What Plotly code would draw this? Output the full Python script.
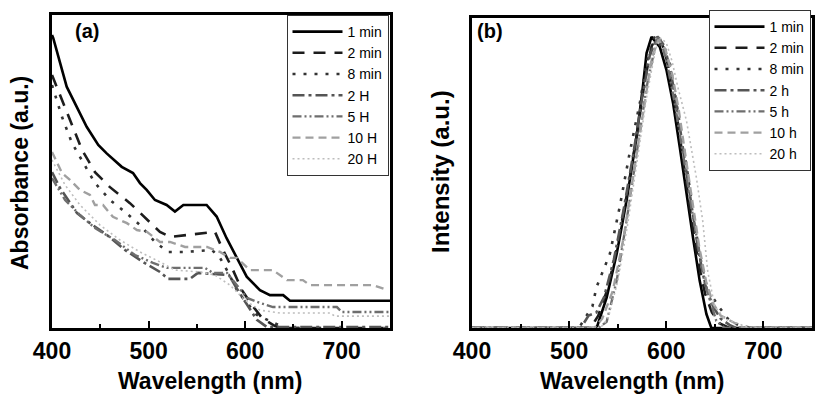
import plotly.graph_objects as go

# ---------------- Panel (a): absorbance ----------------
abs_labels = ["1 min", "2 min", "8 min", "2 H", "5 H", "10 H", "20 H"]

a_1min_x = [400, 401.3, 415.2, 435.9, 447.9, 456.6, 472.2, 483.9, 491.1, 498, 506.6, 518.7, 527.3, 536, 560.1, 570.5, 580.8, 591.2, 601.6, 615.3, 625.7, 639.4, 646.4, 750]
a_1min_y = [0.936, 0.926, 0.771, 0.643, 0.585, 0.558, 0.515, 0.495, 0.463, 0.441, 0.409, 0.393, 0.372, 0.393, 0.393, 0.356, 0.287, 0.228, 0.164, 0.121, 0.105, 0.105, 0.087, 0.087]

a_2min_x = [400, 410.4, 420.7, 431.1, 444.5, 460, 480.7, 501.4, 511.8, 522.2, 537.7, 568.8, 576, 586.4, 596.7, 607.1, 617.5, 630.9, 638.2, 750]
a_2min_y = [0.808, 0.728, 0.649, 0.569, 0.498, 0.450, 0.399, 0.339, 0.307, 0.291, 0.297, 0.307, 0.256, 0.192, 0.121, 0.073, 0.032, 0.006, 0.0, 0.0]

a_8min_x = [400, 410.4, 420.7, 434.2, 444.5, 460, 475.6, 491.1, 506.6, 520, 537.7, 565.7, 574, 582.2, 592.5, 601.9, 612.2, 625.7, 641.2, 750]
a_8min_y = [0.776, 0.674, 0.591, 0.521, 0.463, 0.409, 0.371, 0.329, 0.275, 0.243, 0.243, 0.249, 0.224, 0.179, 0.115, 0.080, 0.042, 0.022, 0.0, 0.0]

a_2H_x = [400, 408.3, 425.9, 439.3, 456.9, 475.6, 494.2, 511.8, 520, 542.8, 551.1, 583.2, 593.5, 603.9, 612.2, 622.5, 750]
a_2H_y = [0.498, 0.447, 0.367, 0.335, 0.297, 0.249, 0.211, 0.179, 0.157, 0.157, 0.176, 0.169, 0.115, 0.064, 0.026, 0.003, 0.003]

a_5H_x = [400, 413.5, 429, 444.5, 465.2, 485.9, 504.5, 519, 558.4, 566.7, 581.2, 591.5, 601.9, 615.3, 628.8, 695, 700.2, 750]
a_5H_y = [0.479, 0.409, 0.361, 0.319, 0.281, 0.233, 0.208, 0.192, 0.192, 0.176, 0.176, 0.137, 0.096, 0.080, 0.067, 0.067, 0.051, 0.051]

a_10H_x = [400, 410.4, 418.6, 429, 439.3, 444.5, 452.8, 463.1, 477.6, 487.9, 498.3, 511.8, 522.2, 537.7, 560.5, 574, 584.3, 591.5, 605, 628.8, 643.3, 659.8, 667, 732.3, 747.9]
a_10H_y = [0.562, 0.495, 0.473, 0.441, 0.425, 0.393, 0.393, 0.355, 0.335, 0.313, 0.307, 0.275, 0.275, 0.259, 0.259, 0.243, 0.224, 0.224, 0.185, 0.185, 0.153, 0.153, 0.137, 0.137, 0.121]

a_20H_x = [400, 413.5, 429, 449.7, 470.5, 491.1, 511.8, 527.3, 553.2, 568.8, 584.3, 599.8, 615.3, 636, 687.8, 693, 750]
a_20H_y = [0.537, 0.457, 0.393, 0.329, 0.281, 0.243, 0.211, 0.185, 0.179, 0.169, 0.137, 0.089, 0.057, 0.048, 0.048, 0.038, 0.038]

# ---------------- Panel (b): photoluminescence ----------------
pl_labels = ["1 min", "2 min", "8 min", "2 h", "5 h", "10 h", "20 h"]

b_1min_x = [400, 528.3, 538.6, 548.9, 559.1, 569.4, 575.9, 579.7, 584.8, 593.3, 600.2, 607.0, 613.9, 620.7, 627.5, 634.4, 641.3, 646.4, 750]
b_1min_y = [0, 0, 0.098, 0.239, 0.411, 0.616, 0.778, 0.887, 0.939, 0.907, 0.832, 0.725, 0.583, 0.434, 0.292, 0.152, 0.045, 0, 0]

b_2min_x = [400, 522, 530, 540, 550, 560, 570, 578, 585, 591, 598, 605, 612, 619, 626, 633, 640, 647, 655, 665, 750]
b_2min_y = [0, 0, 0.04, 0.13, 0.27, 0.44, 0.63, 0.80, 0.91, 0.94, 0.90, 0.80, 0.66, 0.50, 0.35, 0.21, 0.11, 0.05, 0.015, 0, 0]

b_8min_x = [400, 510, 516, 524, 528, 542, 552, 562, 573, 580, 588, 596, 604, 611, 619, 627, 634, 641, 655, 665, 677, 690, 750]
b_8min_y = [0, 0, 0.03, 0.07, 0.13, 0.24, 0.39, 0.56, 0.73, 0.86, 0.94, 0.90, 0.85, 0.72, 0.56, 0.39, 0.24, 0.13, 0.065, 0.023, 0.006, 0, 0]

b_2h_x = [400, 512, 520, 528, 536, 546, 556, 566, 575, 583, 591, 598, 605, 612, 619, 626, 633, 640, 648, 656, 665, 672, 750]
b_2h_y = [0, 0, 0.04, 0.05, 0.10, 0.22, 0.38, 0.56, 0.74, 0.88, 0.94, 0.91, 0.82, 0.69, 0.54, 0.39, 0.25, 0.14, 0.07, 0.03, 0.01, 0, 0]

b_5h_x = [400, 530, 538.6, 548.9, 559.1, 569.4, 579.7, 589.9, 593, 600.2, 608.7, 617.2, 625.9, 634.4, 642.9, 651.5, 660, 750]
b_5h_y = [0, 0, 0.02, 0.152, 0.346, 0.563, 0.777, 0.929, 0.94, 0.864, 0.725, 0.563, 0.388, 0.239, 0.110, 0.023, 0, 0]

b_10h_x = [400, 526, 534, 545, 556, 566, 576, 585, 592, 599, 606, 613, 620, 627, 634, 641, 648, 656, 668, 680, 750]
b_10h_y = [0, 0, 0.03, 0.12, 0.29, 0.49, 0.70, 0.87, 0.93, 0.90, 0.82, 0.70, 0.55, 0.40, 0.26, 0.15, 0.08, 0.04, 0.02, 0, 0]

b_20h_x = [400, 532, 540, 550, 560, 570, 580, 589, 594, 600, 606, 611.8, 620.7, 631, 637.5, 642.6, 649.8, 660, 672, 686, 750]
b_20h_y = [0, 0, 0.03, 0.15, 0.33, 0.54, 0.75, 0.90, 0.935, 0.92, 0.86, 0.778, 0.67, 0.485, 0.346, 0.184, 0.07, 0.03, 0.015, 0, 0]

# ---------------- styles ----------------
styles = [
    dict(color="#000000", width=2.6, dash="solid"),
    dict(color="#1c1c1c", width=2.6, dash="12px,9px"),
    dict(color="#333333", width=2.6, dash="3px,8px"),
    dict(color="#555555", width=2.6, dash="12px,4px,3px,4px"),
    dict(color="#6e6e6e", width=2.4, dash="9px,3px,2px,3px,2px,3px"),
    dict(color="#a0a0a0", width=2.4, dash="8px,5px"),
    dict(color="#bdbdbd", width=1.6, dash="2px,3px"),
]

a_series = [(a_1min_x, a_1min_y), (a_2min_x, a_2min_y), (a_8min_x, a_8min_y), (a_2H_x, a_2H_y),
            (a_5H_x, a_5H_y), (a_10H_x, a_10H_y), (a_20H_x, a_20H_y)]
b_series = [(b_1min_x, b_1min_y), (b_2min_x, b_2min_y), (b_8min_x, b_8min_y), (b_2h_x, b_2h_y),
            (b_5h_x, b_5h_y), (b_10h_x, b_10h_y), (b_20h_x, b_20h_y)]

fig = go.Figure()
for (xs, ys), name, st in zip(a_series, abs_labels, styles):
    fig.add_trace(go.Scatter(x=xs, y=ys, mode="lines", name=name, line=st,
                             xaxis="x", yaxis="y", legend="legend"))
for (xs, ys), name, st in zip(b_series, pl_labels, styles):
    fig.add_trace(go.Scatter(x=xs, y=ys, mode="lines", name=name, line=st,
                             xaxis="x2", yaxis="y2", legend="legend2"))

W, H = 825, 399
OFF = 8  # the page body adds an 8px offset; positions below are page pixels
FONT = "Liberation Sans, Arial, sans-serif"

TOP, BOT = 15 - OFF, 328 - OFF
PH = BOT - TOP


def px(x):
    return (x - OFF) / W


def py(y):
    return (BOT - (y - OFF)) / PH


xcommon = dict(range=[400, 750], tickmode="array", tickvals=[400, 500, 600, 700],
               ticktext=["400", "500", "600", "700"], ticks="inside", ticklen=7, tickwidth=2,
               tickcolor="black", showline=True, linewidth=2.8, linecolor="black", mirror=True,
               showgrid=False, zeroline=False, automargin=False,
               minor=dict(tickvals=[450, 550, 650], ticks="inside", ticklen=4, tickwidth=2, tickcolor="black"),
               tickfont=dict(family=FONT, size=23, color="black", weight="bold"))
ycommon = dict(range=[0, 1], showticklabels=False, ticks="", showline=True, linewidth=2.8,
               linecolor="black", mirror=True, showgrid=False, zeroline=False, automargin=False)

legcommon = dict(bgcolor="white", bordercolor="#333333", borderwidth=1,
                 font=dict(family=FONT, size=14, color="black"), yanchor="top", xanchor="right",
                 tracegroupgap=0, itemwidth=50)

fig.update_layout(
    width=W, height=H, autosize=False,
    margin=dict(l=0, r=0, t=TOP, b=H - BOT, pad=0, autoexpand=False),
    paper_bgcolor="white", plot_bgcolor="white",
    xaxis=dict(domain=[px(52), px(390)], anchor="y", **xcommon),
    yaxis=dict(domain=[0, 1], anchor="x", **ycommon),
    xaxis2=dict(domain=[px(472), px(812)], anchor="y2", **xcommon),
    yaxis2=dict(domain=[0, py(18)], anchor="x2", **ycommon),
    legend=dict(x=px(388.5), y=py(15), **legcommon),
    legend2=dict(x=px(810.5), y=py(10), **legcommon),
    showlegend=True,
)

annots = [
    dict(text="(a)", x=px(87), y=py(31), font=dict(size=20, weight="bold")),
    dict(text="(b)", x=px(490), y=py(31), font=dict(size=20, weight="bold")),
    dict(text="Wavelength (nm)", x=px(210), y=py(381), font=dict(size=23, weight="bold")),
    dict(text="Wavelength (nm)", x=px(632), y=py(381), font=dict(size=23, weight="bold")),
    dict(text="Absorbance (a.u.)", x=px(20), y=py(173), textangle=-90, font=dict(size=23, weight="bold")),
    dict(text="Intensity (a.u.)", x=px(440), y=py(172), textangle=-90, font=dict(size=24, weight="bold")),
]
for a in annots:
    a["font"].update(family=FONT, color="black")
    fig.add_annotation(xref="paper", yref="paper", showarrow=False, xanchor="center", yanchor="middle", **a)

fig.write_html("out.html")
